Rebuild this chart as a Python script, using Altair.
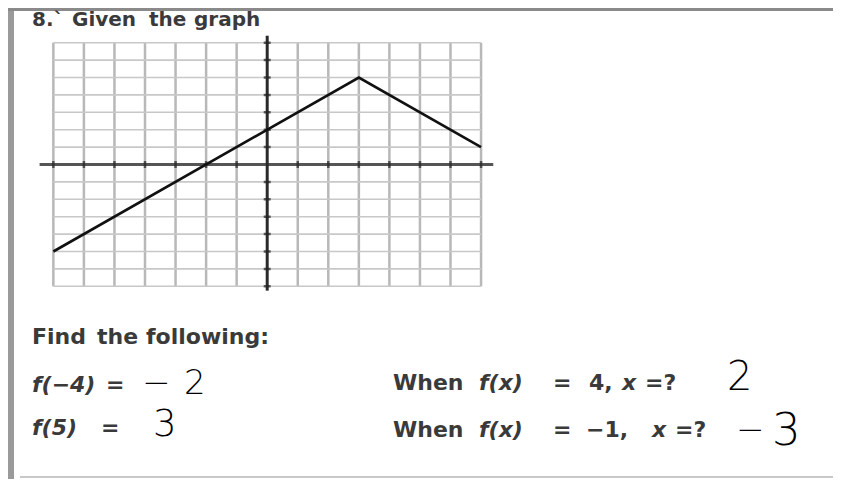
import altair as alt
import pandas as pd

# ---- data ----
func_x = [-7, 3, 7]
func_y = [-5, 5, 1]
grid_vals = [-7, -6, -5, -4, -3, -2, -1, 1, 2, 3, 4, 5, 6, 7]
tick_vals = [-7, -6, -5, -4, -3, -2, -1, 1, 2, 3, 4, 5, 6, 7]

title_words = ["8.`", "Given", "the", "graph"]
prompt_words = ["Find", "the", "following:"]
q1_words = ["f(\u22124)", "="]
a1_words = ["\u2212", "2"]
q2_words = ["f(5)", "="]
a2_words = ["3"]
q3_words = ["When", "f(x)", "=", "4,", "x", "=?"]
a3_words = ["2"]
q4_words = ["When", "f(x)", "=", "\u22121,", "x", "=?"]
a4_words = ["\u2212", "3"]

# ---- layout (styles) ----
W, H = 825, 471
X0_PX, XU = 259.2, 30.55     # pixel of x=0, pixels per unit
Y0_PX, YU = 156.5, 17.4
xdom = [-X0_PX / XU, (W - X0_PX) / XU]
ydom = [-(H - Y0_PX) / YU, Y0_PX / YU]
xs = alt.Scale(domain=xdom, nice=False, zero=False)
ys = alt.Scale(domain=ydom, nice=False, zero=False)
G = 7

vgrid = pd.DataFrame({"x": grid_vals, "y": [-G] * len(grid_vals), "y2": [G] * len(grid_vals)})
hgrid = pd.DataFrame({"y": grid_vals, "x": [-G] * len(grid_vals), "x2": [G] * len(grid_vals)})
func = pd.DataFrame({"x": func_x, "y": func_y})
xt = pd.DataFrame({"x": tick_vals, "y": [0] * len(tick_vals)})
yt = pd.DataFrame({"y": tick_vals, "x": [0] * len(tick_vals)})
xaxis = pd.DataFrame({"x": [-7.45], "x2": [7.4], "y": [0]})
yaxis = pd.DataFrame({"x": [0], "y": [-7.25], "y2": [7.4]})

noax = dict(axis=None)

vg = alt.Chart(vgrid).mark_rule(color="#b8b8b8", strokeWidth=2.5).encode(
    x=alt.X("x:Q", scale=xs, **noax), y=alt.Y("y:Q", scale=ys, **noax), y2="y2:Q")
hg = alt.Chart(hgrid).mark_rule(color="#c8c8c8", strokeWidth=1.6).encode(
    y=alt.Y("y:Q", scale=ys, **noax), x=alt.X("x:Q", scale=xs, **noax), x2="x2:Q")
xa = alt.Chart(xaxis).mark_rule(color="#555555", strokeWidth=3).encode(
    x=alt.X("x:Q", scale=xs, **noax), x2="x2:Q", y=alt.Y("y:Q", scale=ys, **noax))
ya = alt.Chart(yaxis).mark_rule(color="#2a2a2a", strokeWidth=3).encode(
    x=alt.X("x:Q", scale=xs, **noax), y=alt.Y("y:Q", scale=ys, **noax), y2="y2:Q")
xtk = alt.Chart(xt).mark_tick(orient="vertical", size=7, thickness=2.5, color="#222222").encode(
    x=alt.X("x:Q", scale=xs, **noax), y=alt.Y("y:Q", scale=ys, **noax))
ytk = alt.Chart(yt).mark_tick(orient="horizontal", size=7, thickness=2.5, color="#222222").encode(
    x=alt.X("x:Q", scale=xs, **noax), y=alt.Y("y:Q", scale=ys, **noax))
fl = alt.Chart(func).mark_line(color="#111111", strokeWidth=2.6).encode(
    x=alt.X("x:Q", scale=xs, **noax), y=alt.Y("y:Q", scale=ys, **noax))

# frame lines of the scanned page
one = pd.DataFrame({"k": [0]})
left_border = alt.Chart(one).mark_rule(color="#9a9a9a", strokeWidth=6).encode(
    x=alt.value(3), y=alt.value(0), y2=alt.value(H))
top_border = alt.Chart(one).mark_rule(color="#8a8a8a", strokeWidth=3).encode(
    x=alt.value(0), x2=alt.value(W), y=alt.value(1.5))
bottom_border = alt.Chart(one).mark_rule(color="#c8c8c8", strokeWidth=2).encode(
    x=alt.value(12), x2=alt.value(W), y=alt.value(H - 2))

INK = "#3a3a3a"


def txt(s, x, y, size, weight="bold", font="DejaVu Sans", color=INK, style="normal",
        baseline="middle"):
    return alt.Chart(pd.DataFrame({"t": [s]})).mark_text(
        align="left", baseline=baseline, fontSize=size, fontWeight=weight,
        font=font, color=color, fontStyle=style).encode(
        text="t:N", x=alt.value(x), y=alt.value(y))


def row(words, xpos, y, size, italic_idx=(), sizes=None, **kw):
    out = []
    for i, (w, x) in enumerate(zip(words, xpos)):
        st = "italic" if i in italic_idx else "normal"
        sz = sizes[i] if sizes else size
        out.append(txt(w, x, y, sz, style=st, **kw))
    return out


HAND = dict(weight=200, font="DejaVu Sans", color="#000000")

texts = []
texts += row(title_words, [24, 64, 141, 186], 2, 20, baseline="top")
texts += row(prompt_words, [24, 89, 138], 329, 22)
texts += row(q1_words, [24, 98], 377, 22, italic_idx=(0,))
texts += row(a1_words, [134, 176], 376, 34, **HAND)
texts += row(q2_words, [24, 93], 420, 22, italic_idx=(0,))
texts += row(a2_words, [145], 417, 37, **HAND)
texts += row(q3_words, [385, 471, 545, 581, 614, 637], 375, 22, italic_idx=(1, 4))
texts += row(a3_words, [719], 370, 40, **HAND)
texts += row(q4_words, [385, 471, 545, 578, 644, 667], 422, 22, italic_idx=(1, 4))
texts += row(a4_words, [728, 764], 423, 45, sizes=[34, 45], **HAND)

chart = alt.layer(
    vg, hg, xa, ya, xtk, ytk, fl, left_border, top_border, bottom_border, *texts
).properties(width=W, height=H, padding=0, autosize="none").configure_view(stroke=None)

chart.save("out.html", embed_options={"renderer": "svg", "actions": False})
